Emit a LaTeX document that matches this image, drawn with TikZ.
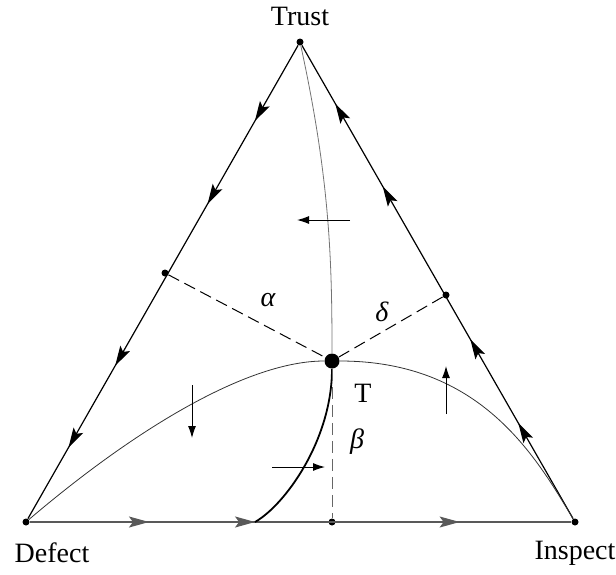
\documentclass[tikz,border=0pt]{standalone}
\usepackage{fontspec}
\setmainfont{Liberation Serif}
\usetikzlibrary{arrows.meta, decorations.markings}

\begin{document}
\begin{tikzpicture}[
  x=0.5pt, y=-0.5pt,
  font=\fontsize{14}{16}\selectfont,
  vdot/.style={circle, fill, inner sep=0pt, minimum size=3.5pt},
  eqdot/.style={circle, fill, inner sep=0pt, minimum size=7.5pt},
  side/.style={line width=0.6pt, postaction={decorate}},
  orbit/.style={line width=0.4pt, black!80},
  guide/.style={line width=0.5pt, dash pattern=on 6pt off 3pt},
  flow/.style={line width=0.5pt, -{Latex[length=6pt,width=4pt]}},
  >={Stealth[length=10pt,width=5.5pt,inset=2pt]},
]
\useasboundingbox (0,0) rectangle (616,574);

% vertices and rest points
\node[vdot] (trust) at (300,42) {};
\node[vdot] (defect) at (26,522) {};
\node[vdot] (inspect) at (575,522) {};
\node[vdot] (lmid) at (165,273) {};
\node[vdot] (rmid) at (446,295) {};
\node[vdot] (bmid) at (332,522) {};
\node[eqdot] (eq) at (332,361) {};
\coordinate (foot) at (255,522);

\node (ltrust) at (300,16) {Trust};
\node (ldefect) at (52,553) {Defect};
\node (linspect) at (575,553) {Inspect};

% sides of the simplex
\draw[side, decoration={markings,
    mark=at position 0.16 with {\arrow{>}},
    mark=at position 0.335 with {\arrow{>}},
    mark=at position 0.677 with {\arrow{>}},
    mark=at position 0.85 with {\arrow{>}}}] (trust) -- (defect);
\draw[side, decoration={markings,
    mark=at position 0.202 with {\arrow{>}},
    mark=at position 0.379 with {\arrow{>}},
    mark=at position 0.702 with {\arrow{>}},
    mark=at position 0.877 with {\arrow{>}}}] (inspect) -- (trust);
\draw[side, black!65, decoration={markings,
    mark=at position 0.22 with {\arrow{>}},
    mark=at position 0.416 with {\arrow{>}},
    mark=at position 0.794 with {\arrow{>}}}] (defect) -- (inspect);

% orbits through T
\draw[orbit, black!55] (trust) .. controls (330,180) and (332,261) .. (eq);
\draw[line width=0.9pt] (eq) .. controls (332,440) and (285,505) .. (foot);
\draw[orbit] (defect) .. controls (140,425) and (250,361) .. (eq);
\draw[orbit] (eq) .. controls (480,361) and (535,455) .. (inspect);

% distances
\draw[guide] (lmid) -- (eq);
\draw[guide] (eq) -- (rmid);
\draw[guide, black!60] (eq) -- (bmid);
\node (lalpha) at (268,300) {\itshape α};
\node (ldelta) at (382,312) {\itshape δ};
\node (lbeta) at (357,442) {\itshape β};
\node (lT) at (363,393) {T};

% flow directions
\draw[flow] (350,220) -- (297,220);
\draw[flow] (192,385) -- (192,438);
\draw[flow] (272,467) -- (325,467);
\draw[flow] (446,414) -- (446,366);
\end{tikzpicture}
\end{document}
